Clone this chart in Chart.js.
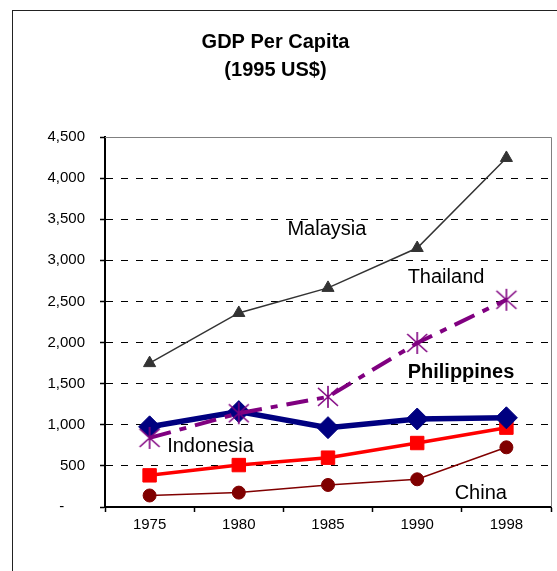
<!DOCTYPE html>
<html>
<head>
<meta charset="utf-8">
<title>GDP Per Capita</title>
<script src="https://cdn.jsdelivr.net/npm/chart.js@4/dist/chart.umd.min.js"></script>
<style>
  html, body { margin: 0; padding: 0; background: #fff; overflow: hidden; }
  #frame {
    position: absolute; left: 12px; top: 10px; width: 700px; height: 700px;
    border: 1.5px solid #222; box-sizing: border-box;
  }
  #gdpChart { position: absolute; left: 0; top: 0; }
</style>
</head>
<body>
<div id="frame"></div>
<canvas id="gdpChart" width="557" height="571"></canvas>
<script>
// Years on the x axis
const years = ['1975', '1980', '1985', '1990', '1998'];

// GDP per capita, 1995 US$
const malaysia    = [1750, 2360, 2665, 3150, 4245];
const thailand    = [840, 1140, 1340, 1995, 2520];
const philippines = [975, 1160, 965, 1070, 1085];
const indonesia   = [385, 510, 600, 778, 965];
const china       = [140, 175, 268, 337, 726];

// y axis range and step
const yMin = 0, yMax = 4500, yStep = 500;

// Series names written inside the plot (x = category index, y = value)
const seriesNotes = [
  { text: 'Malaysia',    x: 1.545, y: 3370, bold: false },
  { text: 'Thailand',    x: 2.893, y: 2797, bold: false },
  { text: 'Philippines', x: 2.893, y: 1630, bold: true },
  { text: 'Indonesia',   x: 0.197, y: 742,  bold: false },
  { text: 'China',       x: 3.42,  y: 170,  bold: false }
];

// Asterisk marker (X with a vertical bar)
function makeStar(color) {
  const c = document.createElement('canvas');
  c.width = 24; c.height = 24;
  const g = c.getContext('2d');
  g.strokeStyle = color;
  g.lineWidth = 1.6;
  g.beginPath();
  g.moveTo(2, 3); g.lineTo(22, 21);
  g.moveTo(2, 21); g.lineTo(22, 3);
  g.moveTo(12, 1); g.lineTo(12, 23);
  g.stroke();
  return c;
}

// Plot area frame plus the text notes
const plotDecor = {
  id: 'plotDecor',
  beforeDatasetsDraw(chart) {
    const { ctx, chartArea: a } = chart;
    ctx.save();
    ctx.strokeStyle = '#808080';
    ctx.lineWidth = 1;
    ctx.beginPath();
    ctx.moveTo(a.left, Math.round(a.top) + 0.5);
    ctx.lineTo(Math.round(a.right) + 0.5, Math.round(a.top) + 0.5);
    ctx.lineTo(Math.round(a.right) + 0.5, a.bottom);
    ctx.stroke();
    ctx.restore();
  },
  afterDatasetsDraw(chart) {
    const { ctx, scales } = chart;
    ctx.save();
    ctx.fillStyle = '#000';
    ctx.textAlign = 'left';
    ctx.textBaseline = 'middle';
    seriesNotes.forEach(n => {
      ctx.font = (n.bold ? 'bold ' : '') + '20px Arial, "Liberation Sans", sans-serif';
      ctx.fillText(n.text, scales.x.getPixelForValue(n.x), scales.y.getPixelForValue(n.y));
    });
    ctx.restore();
  }
};

const tickFont = { family: 'Arial, "Liberation Sans", sans-serif', size: 15 };

new Chart(document.getElementById('gdpChart'), {
  type: 'line',
  data: {
    labels: years,
    datasets: [
      {
        label: 'Malaysia',
        data: malaysia,
        borderColor: '#333333',
        backgroundColor: '#333333',
        borderWidth: 1.5,
        pointStyle: 'triangle',
        pointRadius: 7,
        pointBorderWidth: 1
      },
      {
        label: 'Thailand',
        data: thailand,
        borderColor: '#800080',
        backgroundColor: '#800080',
        borderWidth: 4,
        borderDash: [22, 9, 7, 9],
        pointStyle: makeStar('#800080'),
        pointRadius: 11
      },
      {
        label: 'Philippines',
        data: philippines,
        borderColor: '#000080',
        backgroundColor: '#000080',
        borderWidth: 5.5,
        pointStyle: 'rectRot',
        pointRadius: 11,
        pointBorderWidth: 1
      },
      {
        label: 'Indonesia',
        data: indonesia,
        borderColor: '#ff0000',
        backgroundColor: '#ff0000',
        borderWidth: 3.5,
        pointStyle: 'rect',
        pointRadius: 9.5,
        pointBorderWidth: 1
      },
      {
        label: 'China',
        data: china,
        borderColor: '#800000',
        backgroundColor: '#800000',
        borderWidth: 1.5,
        pointStyle: 'circle',
        pointRadius: 6.5,
        pointBorderWidth: 1
      }
    ]
  },
  options: {
    responsive: false,
    animation: false,
    layout: { autoPadding: false, padding: { left: 0, right: 6, top: 0, bottom: 0 } },
    elements: { line: { tension: 0 } },
    plugins: {
      legend: { display: false },
      tooltip: { enabled: false },
      title: {
        display: true,
        text: ['GDP Per Capita', '(1995 US$)'],
        color: '#000',
        font: { family: 'Arial, "Liberation Sans", sans-serif', size: 20, weight: 'bold', lineHeight: 1.4 },
        padding: { top: 28, bottom: 53 }
      }
    },
    scales: {
      x: {
        offset: true,
        afterFit: s => { s.height = 64; },
        grid: {
          offset: true,
          drawOnChartArea: false,
          tickLength: 5,
          tickColor: '#000',
          tickWidth: 1.5
        },
        border: { color: '#000', width: 2 },
        ticks: { color: '#000', font: tickFont, padding: 4, maxRotation: 0 }
      },
      y: {
        min: yMin,
        max: yMax,
        afterFit: s => { s.width = 105; },
        grid: {
          color: c => (c.tick && (c.tick.value === yMin || c.tick.value === yMax)) ? 'rgba(0,0,0,0)' : '#000',
          lineWidth: 1,
          tickLength: 5,
          tickColor: '#000',
          tickWidth: 1.5,
          tickBorderDash: []
        },
        border: { color: '#000', width: 2, dash: [7, 8] },
        ticks: {
          stepSize: yStep,
          color: '#000',
          font: tickFont,
          padding: 15,
          callback: v => v === 0 ? '-     ' : v.toLocaleString('en-US')
        }
      }
    }
  },
  plugins: [plotDecor]
});
</script>
</body>
</html>
